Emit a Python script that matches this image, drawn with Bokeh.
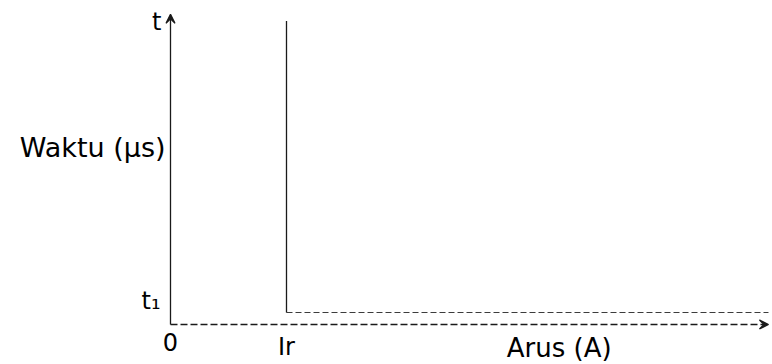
from bokeh.plotting import figure
from bokeh.models import Range1d, Arrow, VeeHead, ColumnDataSource
from bokeh.core.properties import value
from bokeh.embed import file_html
from bokeh.resources import INLINE

# ---- data ----
x_ticks = [0.0, 1.0]          # 0 and Ir (current)
x_labels = ["0", "Ir"]
y_ticks = [1.0, 25.25]        # t1 and t (time)
y_labels = ["t\u2081", "t"]
Ir = 1.0
t1 = 1.0
t_top = 25.3                  # top of the Ir line
x_end = 5.155                 # end of current axis
y_end = 25.85                 # end of time axis
x_title = "Arus (A)"
y_title = "Waktu (\u00b5s)"

FONT = value("DejaVu Sans")
INK = "#1a1a1a"

p = figure(width=772, height=364, output_backend="svg", toolbar_location=None,
           x_range=Range1d(-1.4655, 5.1897), y_range=Range1d(-3.333, 27.0),
           min_border=0, outline_line_color=None)
p.axis.visible = False
p.grid.visible = False
p.background_fill_color = "white"

# axes with arrows
p.add_layout(Arrow(x_start=0, y_start=0, x_end=0, y_end=y_end,
                   line_color=INK, line_width=1.3,
                   end=VeeHead(size=9, line_color=INK, fill_color=INK, line_width=1.3)))
p.add_layout(Arrow(x_start=0, y_start=0, x_end=x_end, y_end=0,
                   line_color=INK, line_width=1.3, line_dash="7 3",
                   end=VeeHead(size=9, line_color=INK, fill_color=INK, line_width=1.3)))

# Ir vertical line and t1 horizontal line
p.line([Ir, Ir], [t1, t_top], line_color=INK, line_width=1.3)
p.line([Ir, x_end], [t1, t1], line_color=INK, line_width=1.2, line_dash="6 3", line_alpha=0.85)

# tick labels
xs = ColumnDataSource(dict(x=x_ticks, y=[0.0] * len(x_ticks), text=x_labels))
p.text("x", "y", text="text", source=xs, text_font=FONT, text_font_size="24px",
       text_align="center", text_baseline="top", y_offset=8, text_color="black")
# t1 label sits a little above its level, t label at the top of the axis
p.text([0.0], [y_ticks[0]], text=[y_labels[0]], text_font=FONT, text_font_size="24px",
       text_align="right", text_baseline="middle", x_offset=-10, y_offset=-12,
       text_color="black")
p.text([0.0], [y_ticks[1]], text=[y_labels[1]], text_font=FONT, text_font_size="24px",
       text_align="right", text_baseline="middle", x_offset=-9, y_offset=0,
       text_color="black")

# axis titles
p.text([0.0], [0.57 * y_end], text=[y_title], text_font=FONT, text_font_size="27px",
       text_align="right", text_baseline="middle", x_offset=-5, text_color="black")
p.text([0.65 * x_end], [0.0], text=[x_title], text_font=FONT, text_font_size="26px",
       text_align="center", text_baseline="middle", y_offset=23, text_color="black")

open("out.html", "w").write(file_html(p, INLINE))
